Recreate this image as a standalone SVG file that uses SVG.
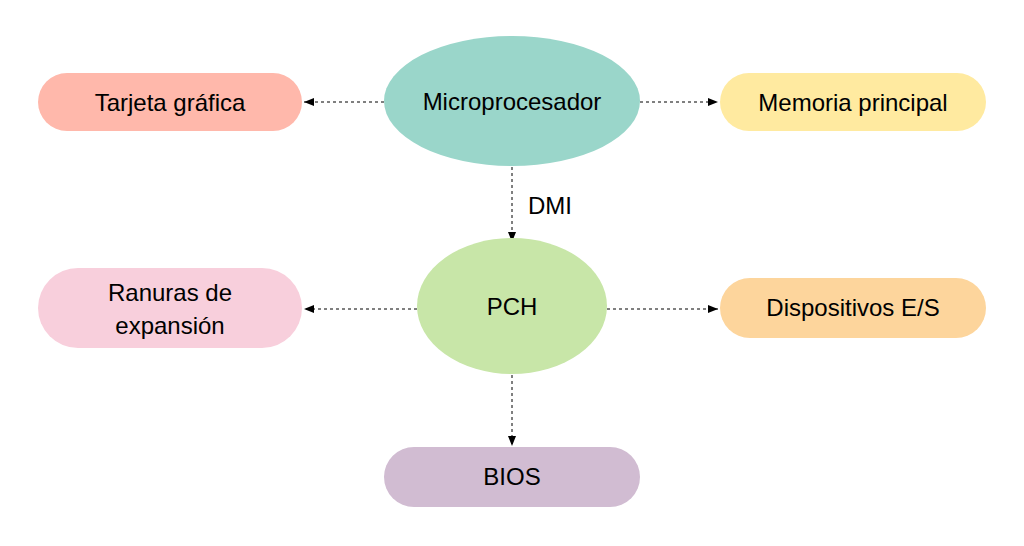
<svg xmlns="http://www.w3.org/2000/svg" width="1024" height="546" viewBox="0 0 1024 546">
<defs>
<marker id="ah" markerWidth="10" markerHeight="8" refX="10" refY="4" orient="auto" markerUnits="userSpaceOnUse"><path d="M0,0 L10,4 L0,8 Z" fill="#000"/></marker>
<style>
text{font-family:"Liberation Sans",Arial,sans-serif;font-size:24px;fill:#000;text-anchor:middle;dominant-baseline:central}
.c{stroke:#000;stroke-width:1;stroke-dasharray:3,3;fill:none;marker-end:url(#ah)}
</style>
</defs>
<rect width="1024" height="546" fill="#fff"/>
<g id="connectors">
<line class="c" x1="384" y1="102" x2="304" y2="102"/>
<line class="c" x1="640" y1="102" x2="718" y2="102"/>
<line class="c" x1="512" y1="167" x2="512" y2="242"/>
<line class="c" x1="417" y1="309" x2="304" y2="309"/>
<line class="c" x1="607" y1="309" x2="718" y2="309"/>
<line class="c" x1="512" y1="375" x2="512" y2="446"/>
<text x="550" y="205">DMI</text>
</g>
<g id="micro"><ellipse cx="512" cy="101" rx="128" ry="65" fill="#9ad6ca"/><text x="512" y="101">Microprocesador</text></g>
<g id="tarjeta"><rect x="38" y="73" width="264" height="58" rx="29" fill="#ffb8ab"/><text x="170" y="102">Tarjeta gráfica</text></g>
<g id="memoria"><rect x="720" y="73" width="266" height="58" rx="29" fill="#ffeaa0"/><text x="853" y="102">Memoria principal</text></g>
<g id="pch"><ellipse cx="512" cy="306" rx="95" ry="68" fill="#c8e6a8"/><text x="512" y="306">PCH</text></g>
<g id="ranuras"><rect x="38" y="268" width="264" height="80" rx="40" fill="#f8cfdc"/><text x="170" y="292">Ranuras de</text><text x="170" y="325">expansión</text></g>
<g id="dispositivos"><rect x="720" y="278" width="266" height="60" rx="30" fill="#fdd59c"/><text x="853" y="307">Dispositivos E/S</text></g>
<g id="bios"><rect x="384" y="447" width="256" height="60" rx="30" fill="#d1bcd2"/><text x="512" y="476">BIOS</text></g>
</svg>
